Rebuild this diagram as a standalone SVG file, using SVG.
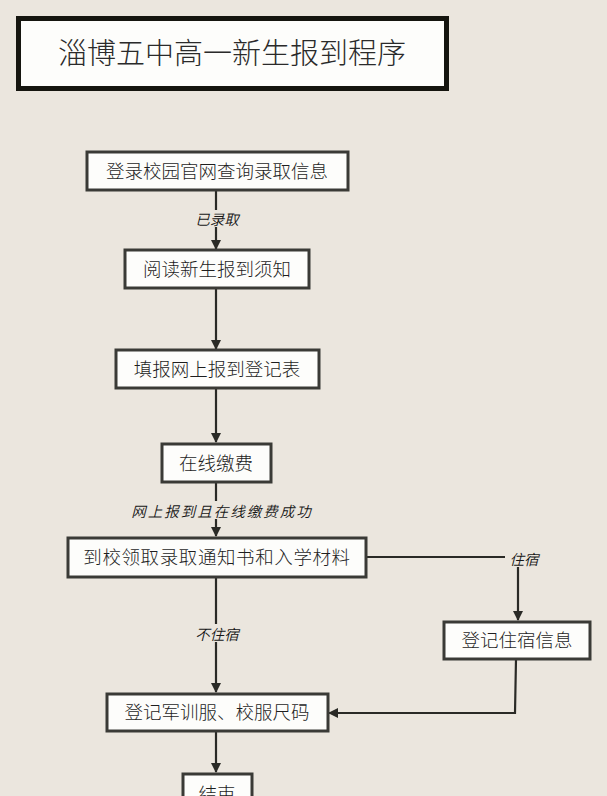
<svg xmlns="http://www.w3.org/2000/svg" width="607" height="796" viewBox="0 0 607 796">
<defs>
<style>
.box{fill:#fdfdfb;stroke:#3a3a36;stroke-width:3}
.t{font-family:"Noto Sans CJK SC","Liberation Sans",sans-serif;font-size:18.5px;font-weight:300;fill:#1e1e1e;text-anchor:middle;dominant-baseline:central}
.lbl{font-family:"Noto Sans CJK SC","Liberation Sans",sans-serif;font-size:14.5px;font-weight:350;font-style:italic;fill:#161616;text-anchor:middle;dominant-baseline:central}
.lbg{fill:#ebe6de}
.c{fill:none;stroke:#2a2a26;stroke-width:2.2}
</style>
<marker id="ah" markerWidth="10" markerHeight="10" refX="9" refY="5" orient="auto" markerUnits="userSpaceOnUse">
<path d="M0,0 L10,5 L0,10 Z" fill="#2a2a26"/>
</marker>
</defs>
<rect x="0" y="0" width="607" height="796" fill="#ebe6de"/>
<g id="title">
<rect x="18.5" y="18.5" width="428" height="70" fill="#fdfdfb" stroke="#15150f" stroke-width="5"/>
<text x="232" y="51" style="font-family:'Noto Sans CJK SC','Liberation Sans',sans-serif;font-size:29px;font-weight:300;fill:#2a2a2a;text-anchor:middle;dominant-baseline:central">淄博五中高一新生报到程序</text>
</g>
<g id="connectors">
<path class="c" d="M216,190 V249" marker-end="url(#ah)"/>
<path class="c" d="M216,288 V349" marker-end="url(#ah)"/>
<path class="c" d="M216,388 V442" marker-end="url(#ah)"/>
<path class="c" d="M216,482 V536" marker-end="url(#ah)"/>
<path class="c" d="M216,577 V692" marker-end="url(#ah)"/>
<path class="c" d="M216,731 V772" marker-end="url(#ah)"/>
<path class="c" d="M366,557 H518 V620" marker-end="url(#ah)"/>
<path class="c" d="M516,659 L515,713 H329" marker-end="url(#ah)"/>
<rect class="lbg" x="192" y="210" width="50" height="17"/>
<text class="lbl" x="217" y="218">已录取</text>
<rect class="lbg" x="128" y="501" width="188" height="18"/>
<text class="lbl" x="222" y="510" letter-spacing="2">网上报到且在线缴费成功</text>
<rect class="lbg" x="505" y="549" width="38" height="18"/>
<text class="lbl" x="524" y="558">住宿</text>
<rect class="lbg" x="194" y="624" width="46" height="18"/>
<text class="lbl" x="217" y="633">不住宿</text>
</g>
<g id="n1"><rect class="box" x="87" y="152" width="261" height="38"/><text class="t" x="217" y="170">登录校园官网查询录取信息</text></g>
<g id="n2"><rect class="box" x="125" y="250" width="184" height="38"/><text class="t" x="217" y="268">阅读新生报到须知</text></g>
<g id="n3"><rect class="box" x="116" y="350" width="203" height="38"/><text class="t" x="217" y="368">填报网上报到登记表</text></g>
<g id="n4"><rect class="box" x="162" y="444" width="109" height="38"/><text class="t" x="216" y="462">在线缴费</text></g>
<g id="n5"><rect class="box" x="68" y="538" width="298" height="39"/><text class="t" x="217" y="556" letter-spacing="0.6">到校领取录取通知书和入学材料</text></g>
<g id="n6"><rect class="box" x="444" y="622" width="146" height="37"/><text class="t" x="517" y="639">登记住宿信息</text></g>
<g id="n7"><rect class="box" x="107" y="694" width="221" height="37"/><text class="t" x="217" y="711">登记军训服、校服尺码</text></g>
<g id="n8"><rect class="box" x="183" y="774" width="69" height="38"/><text class="t" x="217" y="793">结束</text></g>
</svg>
